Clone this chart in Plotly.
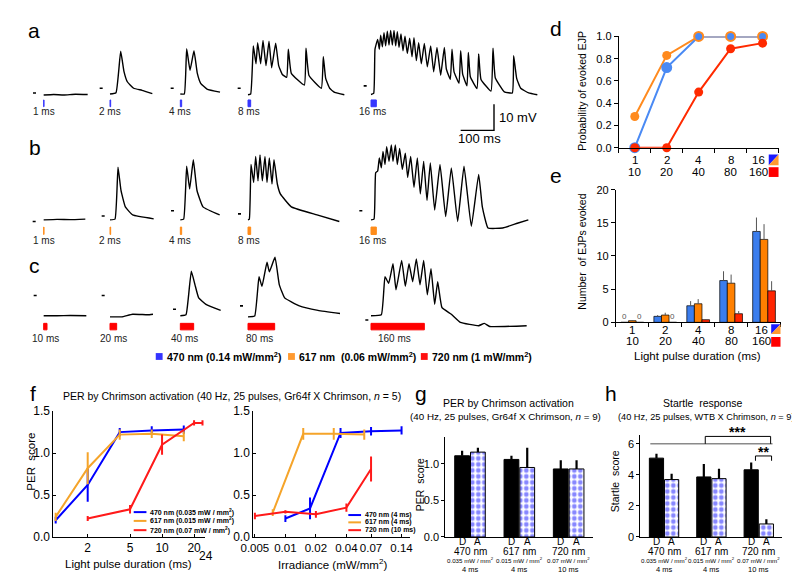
import plotly.graph_objects as go

W, H = 800, 576
FONT = "Arial, Liberation Sans, sans-serif"

# ---------------------------------------------------------------- data
# a-c: EJP recordings, time after light onset (ms) and potential above baseline (mV)
pulse_ms_a = [1, 2, 4, 8, 16]
pulse_ms_b = [1, 2, 4, 8, 16]
pulse_ms_c = [10, 20, 40, 80, 160]

a_t = [
    [0, 30, 60, 95, 132],
    [0, 18, 32, 42, 52, 71, 96, 127],
    [0, 12, 19, 29, 41, 51, 61, 80, 119],
    [0, 8, 16, 24, 29, 38, 45, 54, 63, 71, 83, 92, 103, 116, 121, 130, 169, 174,
     183, 220, 226, 233, 245, 260, 289],
    [0, 8, 12, 20, 25, 29, 34, 39, 44, 49, 54, 59, 64, 69, 74, 79, 84, 90, 96, 102,
     109, 116, 123, 129, 136, 143, 151, 160, 169, 179, 188, 198, 209, 220, 226, 238,
     243, 249, 264, 269, 275, 288, 292, 298, 318, 323, 330, 360, 366, 373, 400, 424,
     428, 437, 449, 473, 499],
]
a_v = [
    [0, 0.2, 0, 0.3, 0.2],
    [0.4, 0.9, 16.8, 9, 5.1, 2.6, 1.8, 0.5],
    [0.4, 0.4, 17.8, 9.5, 17, 8.3, 4.5, 2.3, 1.1],
    [0.1, 0.4, 18.9, 12, 20.1, 12, 21, 11.3, 20.7, 10.5, 19.9, 11.3, 7.9, 6.8, 17.6,
     8.3, 3.8, 18, 7.5, 2.6, 14.7, 6.4, 2.6, 1, 0.1],
    [0.2, 0.6, 17.6, 21.4, 17.6, 23, 18.5, 23.9, 18.9, 24.5, 19.2, 24.8, 19.2, 24.8,
     18.9, 24.3, 18.3, 23.5, 17, 22.6, 16, 21.8, 14.7, 22, 13.2, 20.1, 12, 19.8, 10.8,
     18.9, 8.9, 18.3, 7.6, 18.3, 10, 6, 17.6, 9, 4.5, 17, 8, 3.5, 16.4, 7, 2.5, 15.8,
     6, 1.5, 18, 6.5, 1.2, 0.8, 15.1, 6.4, 2.6, 0.8, 0.1],
]
a_dash_ms = [-32, -31, -29, -31, -22]
a_dash_mv = [0.75, 2.6, 2.6, 2.6, 3.5]

b_t = [
    [0, 40, 80, 125],
    [0, 15, 24, 33, 46, 68, 131],
    [0, 10, 19, 28, 39, 50, 68, 118],
    [0, 4, 9, 17, 23, 30, 36, 43, 51, 57, 64, 72, 78, 88, 97, 130, 207, 274],
    [0, 9, 14, 20, 25, 31, 36, 42, 47, 54, 61, 66, 73, 79, 86, 94, 103, 110, 119, 129,
     139, 148, 158, 168, 178, 191, 207, 224, 241, 260, 279, 301, 323, 334, 351, 395,
     439, 472],
]
b_v = [
    [0, 0.2, 0.1, 0.3],
    [0, 0.3, 20.3, 11.3, 5, 1.9, 0.4],
    [0, 0.3, 20.6, 11.9, 23.1, 11.3, 5, 1.9],
    [0, 0.3, 21.3, 14.4, 24.4, 15, 25, 15, 24.4, 14.4, 23.8, 13.8, 23.1, 13.8, 10, 5,
     1.9, -0.6],
    [0, 0.3, 18.1, 18.8, 23.8, 20, 26.3, 21.3, 28.1, 22.5, 28.8, 22.5, 28.8, 21.3,
     27.5, 19.4, 25.6, 16.3, 24.4, 12.5, 23.8, 10, 22.5, 7.5, 21.9, 3.8, 21.3, 1.3, 20,
     -0.6, 20.6, -2.5, 17.5, 5, -3.1, -3.1, -1.3, 0],
]
b_dash_ms = [-33, -25, -28, -30, -35]
b_dash_mv = [-0.6, 1.5, 3.5, 2.3, 3.5]

c_t = [
    [0, 40, 80, 128],
    [0, 35, 68, 113, 129],
    [0, 17, 24, 33, 44, 55, 77, 121],
    [0, 20, 33, 42, 57, 64, 81, 94, 110, 154, 210, 276],
    [0, 31, 42, 53, 66, 75, 92, 103, 114, 125, 136, 147, 158, 169, 180, 191, 200, 213,
     241, 268, 323, 340, 356, 467],
]
c_v = [
    [0, 0, 0.1, 0],
    [-0.4, -0.4, 0.6, 0.4, 0.6],
    [0, 0.4, 6.9, 17.1, 11.9, 6.9, 4.4, 2.1],
    [-0.4, -0.1, 15, 11.3, 20.6, 16.9, 22.5, 11.9, 6.9, 3.8, 2.1, 0.9],
    [0, 0.4, 15, 12.5, 20, 10, 21.3, 11.3, 20, 13.1, 21.9, 11.9, 21.3, 8.1, 18.1, 4.4,
     13.1, 3.1, 0.6, -2.5, -3.8, -2.9, -4.1, -3.8],
]
c_dash_ms = [-30, -25, -22, -24, -17]
c_dash_mv = [7.8, 7.8, 2.5, 3.8, -1.6]

# d: probability of evoked EJP
dur_top = ["1", "2", "4", "8", "16"]
dur_bottom = ["10", "20", "40", "80", "160"]
d_blue = [0, 0.72, 1.0, 1.0, 1.0]
d_orange = [0.28, 0.83, 1.0, 1.0, 1.0]
d_red = [0, 0, 0.5, 0.89, 0.94]

# e: number of EJPs evoked (mean, sem)
e_blue = [0, 0.9, 2.5, 6.3, 13.7]
e_blue_err = [0, 0.2, 0.7, 1.4, 2.1]
e_orange = [0.25, 1.1, 2.8, 5.9, 12.5]
e_orange_err = [0.1, 0.35, 0.7, 1.3, 2.3]
e_red = [0, 0, 0.4, 1.3, 4.75]
e_red_err = [0, 0, 0.1, 0.4, 1.45]

# f: PER score vs pulse duration
f_dur_blue = [1, 2, 4, 8, 16]
f_per_blue = [0.2, 0.62, 1.25, 1.27, 1.28]
f_err_blue = [0.04, 0.2, 0.05, 0.05, 0.05]
f_dur_orange = [1, 2, 4, 8, 16]
f_per_orange = [0.24, 0.82, 1.22, 1.23, 1.2]
f_err_orange = [0.05, 0.19, 0.06, 0.05, 0.06]
f_dur_red = [2, 5, 10, 20, 24]
f_per_red = [0.22, 0.33, 1.1, 1.36, 1.36]
f_err_red = [0.03, 0.05, 0.12, 0.03, 0.03]

# f: PER score vs irradiance
fi_irr_blue = [0.01, 0.0175, 0.035, 0.07, 0.14]
fi_per_blue = [0.22, 0.34, 1.24, 1.26, 1.27]
fi_err_blue = [0.04, 0.13, 0.06, 0.05, 0.05]
fi_irr_orange = [0.0075, 0.015, 0.03, 0.06]
fi_per_orange = [0.29, 1.23, 1.23, 1.22]
fi_err_orange = [0.04, 0.07, 0.07, 0.06]
fi_irr_red = [0.005, 0.01, 0.02, 0.04, 0.07]
fi_per_red = [0.25, 0.3, 0.27, 0.35, 0.81]
fi_err_red = [0.04, 0.02, 0.04, 0.05, 0.15]
irr_ticks = [0.005, 0.01, 0.02, 0.04, 0.07, 0.14]

# g / h: dark (D) vs activated (A)
groups_nm = ["470 nm", "617 nm", "720 nm"]
groups_irr = ["0.035 mW / mm<sup>2</sup>", "0.015 mW / mm<sup>2</sup>",
              "0.07 mW / mm<sup>2</sup>"]
groups_pulse = ["4 ms", "4 ms", "10 ms"]
g_dark = [1.11, 1.06, 0.93]
g_dark_err = [0.07, 0.05, 0.12]
g_act = [1.16, 0.95, 0.93]
g_act_err = [0.06, 0.27, 0.12]
h_dark = [5.08, 3.87, 4.33]
h_dark_err = [0.29, 0.83, 0.47]
h_act = [3.7, 3.76, 0.84]
h_act_err = [0.37, 0.63, 0.31]


# ---------------------------------------------------------------- helpers
def px(x):
    return x / W


def py(y):
    return 1 - y / H


ann = []
shp = []


def note(x, y, text, size=10, xref="paper", yref="paper", xa="center",
         ya="middle", angle=0, color="black", bold=False):
    if xref == "paper":
        x = px(x)
    if yref == "paper":
        y = py(y)
    if bold:
        text = "<b>" + text + "</b>"
    ann.append(dict(x=x, y=y, xref=xref, yref=yref, text=text, showarrow=False,
                    xanchor=xa, yanchor=ya, textangle=angle,
                    font=dict(family=FONT, size=size, color=color)))


def rect(x0, y0, x1, y1, color):
    shp.append(dict(type="rect", xref="paper", yref="paper", x0=px(x0), x1=px(x1),
                    y0=py(y1), y1=py(y0), fillcolor=color, line=dict(width=0)))


def hline(x0, x1, y, color, width=2):
    shp.append(dict(type="line", xref="paper", yref="paper", x0=px(x0), x1=px(x1),
                    y0=py(y), y1=py(y), line=dict(color=color, width=width)))


def split_swatch(x0, y0, x1, y1, c1, c2):
    tri1 = "M %f,%f L %f,%f L %f,%f Z" % (px(x0), py(y0), px(x1), py(y0), px(x0), py(y1))
    tri2 = "M %f,%f L %f,%f L %f,%f Z" % (px(x1), py(y0), px(x1), py(y1), px(x0), py(y1))
    shp.append(dict(type="path", xref="paper", yref="paper", path=tri1,
                    fillcolor=c1, line=dict(width=0)))
    shp.append(dict(type="path", xref="paper", yref="paper", path=tri2,
                    fillcolor=c2, line=dict(width=0)))


fig = go.Figure()
layout = {}

# ---------------------------------------------------------------- a, b, c traces
MS_PER_PX = 2.94
MV_PER_PX = 0.375
TRACE_X0_MS = [68, 267, 478, 681, 1050]
ROW_RIGHT_PX = 540

rows = [
    dict(ax="", t=a_t, v=a_v, dms=a_dash_ms, dmv=a_dash_mv, pulse=pulse_ms_a,
         color="#3636ff", top=0, bot=130, base=82, stim=(-4.5, -1.9), lab=-6.5,
         ldx=[0, 0, 0, 2, 4]),
    dict(ax="2", t=b_t, v=b_v, dms=b_dash_ms, dmv=b_dash_mv, pulse=pulse_ms_b,
         color="#ff8c1a", top=130, bot=250, base=210, stim=(-5.6, -2.75), lab=-7.8,
         ldx=[0, 0, 0, 2, 4]),
    dict(ax="3", t=c_t, v=c_v, dms=c_dash_ms, dmv=c_dash_mv, pulse=pulse_ms_c,
         color="#ff0000", top=245, bot=345, base=308.3, stim=(-5.4, -2.9), lab=-8.6,
         ldx=[6, 10, 13, 35, 70]),
]

for r in rows:
    xa, ya = "x" + r["ax"], "y" + r["ax"]
    layout["xaxis" + r["ax"]] = dict(domain=[0, px(ROW_RIGHT_PX)],
                                     range=[0, ROW_RIGHT_PX * MS_PER_PX],
                                     visible=False, anchor=ya)
    layout["yaxis" + r["ax"]] = dict(domain=[py(r["bot"]), py(r["top"])],
                                     range=[(r["base"] - r["bot"]) * MV_PER_PX,
                                            (r["base"] - r["top"]) * MV_PER_PX],
                                     visible=False, anchor=xa)
    for i, x0 in enumerate(TRACE_X0_MS):
        fig.add_trace(go.Scatter(x=[x0 + t for t in r["t"][i]], y=r["v"][i],
                                 mode="lines",
                                 line=dict(color="black", width=1.4, shape="spline",
                                           smoothing=0.35),
                                 xaxis=xa, yaxis=ya, hoverinfo="skip"))
        fig.add_trace(go.Scatter(x=[x0 + r["dms"][i], x0 + r["dms"][i] + 9],
                                 y=[r["dmv"][i]] * 2, mode="lines",
                                 line=dict(color="black", width=1.6),
                                 xaxis=xa, yaxis=ya, hoverinfo="skip"))
        shp.append(dict(type="rect", xref=xa, yref=ya, x0=x0, x1=x0 + r["pulse"][i],
                        y0=r["stim"][0], y1=r["stim"][1], fillcolor=r["color"],
                        line=dict(color=r["color"], width=1)))
        note(x0 + r["ldx"][i], r["lab"], "%d ms" % r["pulse"][i], size=10,
             xref=xa, yref=ya, color="#222")

# scale bar (row a coordinates)
SB_X, SB_Y = 1419, -13.6
fig.add_trace(go.Scatter(x=[SB_X - 100, SB_X, SB_X], y=[SB_Y, SB_Y, SB_Y + 10],
                         mode="lines", line=dict(color="black", width=1.4),
                         xaxis="x", yaxis="y", hoverinfo="skip"))
note(SB_X + 10, SB_Y + 5, "10 mV", size=13, xref="x", yref="y", xa="left")
note(SB_X - 45, SB_Y - 3.2, "100 ms", size=13, xref="x", yref="y")

# wavelength key
rect(137.5, 346.5, 144.5, 353.5, "#3434ff")
note(146.5, 350, "470 nm (0.14 mW/mm<sup>2</sup>)", size=10.5, xa="left", bold=True)
rect(272.5, 346.5, 279.5, 353.5, "#ff9a30")
note(282, 350, "617 nm  (0.06 mW/mm<sup>2</sup>)", size=10.5, xa="left", bold=True)
rect(408, 346.5, 415, 353.5, "#ff1010")
note(417, 350, "720 nm (1 mW/mm<sup>2</sup>)", size=10.5, xa="left", bold=True)

# ---------------------------------------------------------------- d
BLUE_D, ORANGE_D, RED_D = "#4a8af4", "#ff8a1e", "#ff2a00"
cats = [1, 2, 3, 4, 5]
axis_common = dict(showgrid=False, zeroline=False, showline=True, linecolor="black",
                   linewidth=1, ticks="outside", tickcolor="black", ticklen=4,
                   tickfont=dict(family=FONT, size=11, color="black"))

layout["xaxis4"] = dict(axis_common, domain=[px(610), px(773)], range=[0.5, 5.5],
                        tickvals=[0.5, 1.5, 2.5, 3.5, 4.5, 5.5],
                        showticklabels=False, anchor="y4")
layout["yaxis4"] = dict(axis_common, domain=[py(136), py(22)], range=[0, 1.0],
                        tickvals=[0, 0.2, 0.4, 0.6, 0.8, 1.0], tickformat=".1f",
                        anchor="x4")
fig.add_trace(go.Scatter(x=cats, y=d_orange, mode="lines+markers",
                         line=dict(color=ORANGE_D, width=2),
                         marker=dict(size=9, color=ORANGE_D), cliponaxis=False,
                         xaxis="x4", yaxis="y4"))
fig.add_trace(go.Scatter(x=cats, y=d_blue, mode="lines+markers",
                         line=dict(color=BLUE_D, width=2),
                         marker=dict(size=9, color=BLUE_D,
                                     line=dict(width=2, color=[BLUE_D, BLUE_D, ORANGE_D,
                                                               ORANGE_D, ORANGE_D])),
                         cliponaxis=False, xaxis="x4", yaxis="y4"))
fig.add_trace(go.Scatter(x=cats, y=d_red, mode="lines+markers",
                         line=dict(color=RED_D, width=2),
                         marker=dict(size=9, color=RED_D), cliponaxis=False,
                         xaxis="x4", yaxis="y4"))
for i, c in enumerate(cats):
    shift = -0.12 if i == 4 else 0
    note(c + shift, 148.5, dur_top[i], size=11.5, xref="x4")
    note(c + shift, 160.5, dur_bottom[i], size=11.5, xref="x4")
split_swatch(763, 143, 773, 154, "#1a1aff", "#ff9a30")
rect(763, 156, 773, 166, "#ff0000")
note(546, 14, "d", size=21)
note(573, 78, "Probability of evoked EJP", size=10.5, angle=-90)

# ---------------------------------------------------------------- e
BLUE_E, ORANGE_E, RED_E = "#3b7ded", "#ff8000", "#ff2400"
layout["xaxis5"] = dict(axis_common, domain=[px(607), px(775)], range=[0.5, 5.5],
                        tickvals=[0.5, 1.5, 2.5, 3.5, 4.5, 5.5],
                        showticklabels=False, anchor="y5")
layout["yaxis5"] = dict(axis_common, domain=[py(315), py(179)], range=[0, 20],
                        tickvals=[0, 5, 10, 15, 20], anchor="x5")
BAR_W_E = 0.23
for vals, errs, col, off in [(e_blue, e_blue_err, BLUE_E, -0.345),
                             (e_orange, e_orange_err, ORANGE_E, -0.115),
                             (e_red, e_red_err, RED_E, 0.115)]:
    fig.add_trace(go.Bar(x=cats, y=vals, width=BAR_W_E, offset=off,
                         marker=dict(color=col, line=dict(color="black", width=0.7)),
                         error_y=dict(type="data", array=errs, symmetric=False,
                                      arrayminus=[0] * len(errs), color="#555",
                                      thickness=1, width=0),
                         xaxis="x5", yaxis="y5"))
    for c, v in zip(cats, vals):
        if v == 0:
            note(c + off + BAR_W_E / 2, 0.9, "0", size=8, xref="x5", yref="y5",
                 color="#555")
for i, c in enumerate(cats):
    shift = -0.08 if i == 4 else 0
    note(c + shift, 323, dur_top[i], size=11.5, xref="x5")
    note(c + shift, 334, dur_bottom[i], size=11.5, xref="x5")
split_swatch(765.5, 317, 775, 327, "#1a1aff", "#ff9a30")
rect(765.5, 330, 775, 340, "#ff0000")
note(690, 350, "Light pulse duration (ms)", size=11.5)
note(546, 165, "e", size=21)
note(573, 243, "Number  of EJPs evoked", size=10.5, angle=-90)

# ---------------------------------------------------------------- f
BLUE_F, ORANGE_F, RED_F = "#0000ff", "#f5a42a", "#ff1a1a"
f_axis = dict(axis_common, ticks="inside", ticklen=3, tickangle=0,
              tickfont=dict(family=FONT, size=12, color="black"))
layout["xaxis6"] = dict(f_axis, type="log", domain=[px(33), px(188)],
                        range=[-0.022, 1.406], tickvals=[2, 5, 10, 20],
                        ticktext=["2", "5", "10", "20"], anchor="y6")
layout["yaxis6"] = dict(f_axis, domain=[py(535), py(406)], range=[0, 1.5],
                        tickvals=[0, 0.5, 1.0, 1.5], tickformat=".1f", anchor="x6")
layout["xaxis7"] = dict(f_axis, type="log", domain=[px(237), px(397)],
                        range=[-2.317, -0.77], tickvals=irr_ticks,
                        ticktext=[str(v) for v in irr_ticks], anchor="y7",
                        tickfont=dict(family=FONT, size=11.5, color="black"))
layout["yaxis7"] = dict(f_axis, domain=[py(535), py(406)], range=[0, 1.5],
                        tickvals=[0, 0.5, 1.0, 1.5], tickformat=".1f", anchor="x7")

for xs, ys, es, col, xa, ya in [
        (f_dur_blue, f_per_blue, f_err_blue, BLUE_F, "x6", "y6"),
        (f_dur_orange, f_per_orange, f_err_orange, ORANGE_F, "x6", "y6"),
        (f_dur_red, f_per_red, f_err_red, RED_F, "x6", "y6"),
        (fi_irr_blue, fi_per_blue, fi_err_blue, BLUE_F, "x7", "y7"),
        (fi_irr_orange, fi_per_orange, fi_err_orange, ORANGE_F, "x7", "y7"),
        (fi_irr_red, fi_per_red, fi_err_red, RED_F, "x7", "y7")]:
    fig.add_trace(go.Scatter(x=xs, y=ys, mode="lines", line=dict(color=col, width=2),
                             error_y=dict(type="data", array=es, color=col,
                                          thickness=2, width=0),
                             cliponaxis=False, xaxis=xa, yaxis=ya))

note(189, 554, "24", size=12)
note(12, 388, "f", size=21)
note(215, 390, "PER by Chrimson activation (40 Hz, 25 pulses, Gr64f X Chrimson, "
     "<i>n</i> = 5)", size=10.5)
note(10, 458, "PER  score", size=11.5, angle=-90)
note(110, 563, "Light pulse duration (ms)", size=11.5)
note(318, 563, "Irradiance (mW/mm<sup>2</sup>)", size=11.5)

for y, col, txt in [(509.5, BLUE_F, "470 nm (0.035 mW / mm<sup>2</sup>)"),
                    (518.5, ORANGE_F, "617 nm (0.015 mW / mm<sup>2</sup>)"),
                    (528, RED_F, "720 nm (0.07 mW / mm<sup>2</sup>)")]:
    hline(115, 128, y, col)
    note(129.5, y, txt, size=7, xa="left", bold=True)
for y, col, txt in [(512.5, BLUE_F, "470 nm (4 ms)"),
                    (520, ORANGE_F, "617 nm (4 ms)"),
                    (528, RED_F, "720 nm (10 ms)")]:
    hline(334, 347, y, col)
    note(349, y, txt, size=7, xa="left", bold=True)

# ---------------------------------------------------------------- g, h
PATTERN = dict(shape=".", fgcolor="#1010ff", bgcolor="white", size=6, solidity=0.5)
grp = [0, 1, 2]
gh_axis = dict(axis_common, ticklen=3,
               tickfont=dict(family=FONT, size=11, color="black"))
layout["xaxis8"] = dict(gh_axis, domain=[px(433), px(584)], range=[-0.5, 2.5],
                        ticks="", showticklabels=False, anchor="y8")
layout["yaxis8"] = dict(gh_axis, domain=[py(535), py(433)], range=[0, 1.36],
                        tickvals=[0, 0.5, 1.0], tickformat=".1f", anchor="x8")
layout["xaxis9"] = dict(gh_axis, domain=[px(632), px(777)], range=[-0.5, 2.5],
                        ticks="", showticklabels=False, anchor="y9")
layout["yaxis9"] = dict(gh_axis, domain=[py(535), py(430)], range=[0, 6.6],
                        tickvals=[0, 2, 4, 6], anchor="x9")

for dark, dark_e, act, act_e, xa, ya in [(g_dark, g_dark_err, g_act, g_act_err, "x8", "y8"),
                                          (h_dark, h_dark_err, h_act, h_act_err, "x9", "y9")]:
    fig.add_trace(go.Bar(x=grp, y=dark, width=0.3, offset=-0.31,
                         marker=dict(color="black", line=dict(color="black", width=1)),
                         error_y=dict(type="data", array=dark_e, symmetric=False,
                                      arrayminus=[0] * 3, color="black",
                                      thickness=2.2, width=0),
                         xaxis=xa, yaxis=ya))
    fig.add_trace(go.Bar(x=grp, y=act, width=0.3, offset=0.01,
                         marker=dict(color="white", pattern=PATTERN,
                                     line=dict(color="black", width=1)),
                         error_y=dict(type="data", array=act_e, symmetric=False,
                                      arrayminus=[0] * 3, color="black",
                                      thickness=2.2, width=0),
                         xaxis=xa, yaxis=ya))
    for i in grp:
        note(i - 0.16, 540, "D", size=10, xref=xa)
        note(i + 0.16, 540, "A", size=10, xref=xa)
        note(i, 549.5, groups_nm[i], size=10, xref=xa)
        note(i, 558.5, groups_irr[i], size=6.2, xref=xa)
        note(i, 568, groups_pulse[i], size=7.5, xref=xa)

note(408, 388, "g", size=21)
note(497, 398, "PER by Chrimson activation", size=10.5)
note(494, 412, "(40 Hz, 25 pulses, Gr64f X Chrimson, <i>n</i> = 9)", size=9.8)
note(407, 481, "PER  score", size=10.5, angle=-90)

note(602, 388, "h", size=21)
note(696, 398, "Startle  response", size=10.5)
note(791, 412, "(40 Hz, 25 pulses, WTB X Chrimson, <i>n</i> = 9)", size=9.2, xa="right")
note(607, 478, "Startle  score", size=10.5, angle=-90)

# significance marks in panel h
shp.append(dict(type="line", xref="x9", yref="y9", x0=-0.29, x1=2.29, y0=6.0, y1=6.0,
                line=dict(color="#8a8a8a", width=1.5)))
shp.append(dict(type="path", xref="x9", yref="y9",
                path="M 0.87,6.0 L 0.87,6.48 L 2.25,6.48 L 2.25,6.0",
                line=dict(color="black", width=1)))
shp.append(dict(type="path", xref="x9", yref="y9",
                path="M 1.93,4.91 L 1.93,5.22 L 2.27,5.22 L 2.27,4.91",
                line=dict(color="black", width=1)))
note(731.5, 427, "***", size=14, bold=True)
note(2.1, 5.45, "**", size=14, xref="x9", yref="y9", bold=True)

note(13, 16, "a", size=21)
note(14, 136, "b", size=21)
note(14, 257, "c", size=21)

layout.update(dict(width=W, height=H, margin=dict(l=0, r=0, t=0, b=0),
                   paper_bgcolor="white", plot_bgcolor="white", showlegend=False,
                   barmode="overlay", font=dict(family=FONT, color="black"),
                   annotations=ann, shapes=shp))
fig.update_layout(**layout)
fig.write_html("out.html")
